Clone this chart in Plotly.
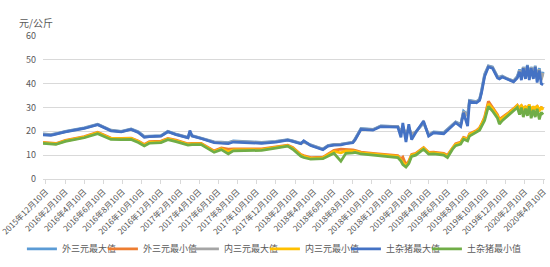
import plotly.graph_objects as go

dates = [
    "2015-12-01", "2015-12-26", "2016-01-11", "2016-02-10", "2016-04-10", "2016-05-23",
    "2016-07-04", "2016-08-06", "2016-09-06", "2016-09-29", "2016-10-18", "2016-11-03",
    "2016-12-10", "2017-01-01", "2017-01-27", "2017-03-06", "2017-03-12", "2017-03-19",
    "2017-04-17", "2017-05-28", "2017-06-20", "2017-07-12", "2017-07-28", "2017-09-08",
    "2017-10-26", "2017-12-10", "2018-01-17", "2018-02-02", "2018-02-28", "2018-03-09",
    "2018-03-31", "2018-05-09", "2018-05-25", "2018-06-13", "2018-07-05", "2018-07-21",
    "2018-08-12", "2018-08-19", "2018-09-07", "2018-10-15", "2018-11-09", "2019-01-02",
    "2019-01-12", "2019-01-18", "2019-01-28", "2019-02-06", "2019-02-15", "2019-02-28",
    "2019-03-25", "2019-04-10", "2019-04-26", "2019-05-28", "2019-06-09", "2019-06-25",
    "2019-07-05", "2019-07-21", "2019-07-30", "2019-08-12", "2019-08-18", "2019-09-09",
    "2019-09-19", "2019-09-25", "2019-10-05", "2019-10-17", "2019-10-30", "2019-11-15",
    "2019-11-21", "2019-11-30", "2019-12-17", "2020-01-05", "2020-01-17", "2020-01-24",
    "2020-01-30", "2020-02-05", "2020-02-12", "2020-02-18", "2020-02-24", "2020-03-01",
    "2020-03-08", "2020-03-14", "2020-03-20", "2020-03-27", "2020-04-02", "2020-04-08",
]

wai_max = [18.9, 18.6, 19.0, 20.0, 21.5, 23.0, 20.5, 20.0, 21.0, 19.8, 17.9, 18.0, 18.2, 20.0, 18.8, 17.5,
           19.5, 18.2, 17.2, 15.6, 15.5, 15.3, 16.0, 15.8, 15.4, 15.8, 16.5, 16.0, 15.0, 15.8, 14.3, 12.6,
           14.0, 14.5, 14.6, 15.0, 15.5, 16.8, 21.2, 20.8, 22.3, 22.0, 19.5, 22.0, 18.0, 21.5, 18.5, 19.8,
           23.5, 18.5, 19.8, 19.5, 21.0, 23.0, 24.0, 23.0, 28.5, 27.0, 33.0, 32.5, 33.5, 37.0, 44.0, 47.5,
           47.0, 43.0, 42.8, 43.2, 42.0, 41.2, 43.0, 46.0, 43.5, 47.0, 44.0, 47.8, 43.0, 47.0, 44.0, 47.5,
           42.5, 46.5, 42.0, 45.0]

wai_min = [15.4, 15.2, 14.9, 16.2, 17.8, 19.6, 17.2, 17.1, 17.2, 16.0, 14.5, 15.7, 15.9, 17.0, 16.3, 14.8,
           14.9, 15.0, 15.0, 11.8, 13.0, 12.5, 12.6, 12.6, 12.6, 13.5, 14.2, 13.2, 10.3, 9.8, 9.0, 9.2,
           10.5, 12.0, 12.5, 12.5, 12.2, 12.0, 11.3, 10.8, 10.5, 9.8, 8.5, 9.2, 6.0, 7.5, 10.3, 10.8,
           13.2, 11.2, 11.3, 10.8, 10.0, 13.3, 14.8, 15.5, 17.5, 17.0, 19.0, 20.3, 21.5, 23.0, 26.0, 32.6,
           30.0, 27.0, 25.0, 26.0, 27.5, 29.5, 31.0, 29.5, 31.0, 29.0, 30.5, 29.0, 31.0, 29.0, 30.0, 29.5,
           30.5, 29.0, 30.0, 29.5]

nei_max = [18.7, 18.5, 18.9, 19.9, 21.3, 22.9, 20.4, 19.9, 20.9, 19.6, 17.7, 17.9, 18.1, 19.9, 18.7, 17.4,
           19.0, 18.1, 17.1, 15.5, 15.3, 15.1, 15.8, 15.6, 15.2, 15.7, 16.4, 15.9, 14.9, 15.5, 14.2, 12.5,
           13.9, 14.4, 14.5, 14.9, 15.4, 16.6, 21.0, 20.7, 22.2, 22.0, 20.0, 21.5, 19.0, 21.0, 19.0, 19.7,
           23.8, 18.6, 19.6, 19.3, 20.8, 22.8, 23.8, 22.6, 28.2, 26.5, 32.8, 32.3, 33.3, 36.5, 43.5, 47.3,
           46.8, 42.8, 42.5, 43.0, 41.9, 41.0, 42.8, 45.5, 43.0, 46.8, 43.5, 47.5, 42.5, 46.8, 43.5, 47.2,
           42.0, 46.0, 41.5, 44.5]

nei_min = [15.2, 15.0, 14.7, 16.0, 17.6, 19.4, 17.0, 16.9, 17.0, 15.7, 14.2, 15.4, 15.6, 16.8, 16.0, 14.5,
           14.6, 14.7, 14.7, 11.5, 12.7, 11.5, 12.2, 12.3, 12.3, 13.3, 14.0, 12.9, 10.0, 9.5, 8.7, 8.9,
           10.0, 11.6, 11.0, 11.8, 11.7, 11.7, 11.0, 10.5, 10.2, 9.5, 8.0, 7.0, 5.5, 7.0, 10.0, 10.5,
           13.0, 11.0, 11.0, 10.5, 9.6, 13.0, 14.5, 15.2, 17.2, 16.7, 18.7, 20.0, 21.2, 22.8, 25.5, 31.5,
           29.5, 26.5, 24.5, 25.5, 27.2, 29.2, 30.8, 29.8, 30.8, 29.5, 30.3, 29.5, 31.2, 28.8, 30.5, 29.0,
           30.8, 28.5, 30.2, 29.0]

tu_max = [18.5, 18.3, 18.8, 19.8, 21.2, 22.8, 20.2, 19.8, 20.8, 19.5, 17.5, 17.8, 18.0, 19.8, 18.6, 17.3,
          20.3, 18.0, 17.0, 15.3, 15.0, 14.8, 15.5, 15.3, 15.0, 15.5, 16.3, 15.8, 14.8, 16.0, 14.0, 12.3,
          13.8, 14.2, 14.3, 14.8, 15.2, 16.4, 20.8, 20.5, 22.0, 21.8, 17.5, 23.5, 15.5, 23.0, 16.5, 19.5,
          24.3, 18.0, 19.4, 19.0, 20.5, 22.5, 23.6, 22.0, 27.8, 22.2, 32.6, 32.0, 33.0, 36.0, 43.0, 47.0,
          46.5, 42.4, 42.0, 42.8, 41.7, 40.8, 42.4, 45.0, 41.5, 46.5, 42.0, 47.5, 41.5, 46.5, 42.0, 47.0,
          40.5, 45.5, 40.0, 39.5]

tu_min = [15.0, 14.8, 14.5, 15.8, 17.3, 19.0, 16.6, 16.5, 16.6, 15.3, 13.9, 15.0, 15.3, 16.5, 15.7, 14.2,
          14.3, 14.4, 14.4, 11.2, 12.3, 10.5, 11.8, 12.0, 12.0, 13.0, 13.8, 12.5, 9.5, 9.0, 8.3, 8.5,
          9.5, 10.8, 7.5, 10.8, 11.0, 11.2, 10.5, 10.0, 9.8, 9.0, 7.5, 6.0, 5.0, 6.5, 9.5, 10.0,
          12.5, 10.4, 10.5, 10.0, 9.0, 12.5, 14.0, 14.6, 16.7, 16.0, 18.0, 19.5, 20.5, 22.0, 24.5, 30.5,
          28.5, 25.5, 23.0, 24.5, 26.4, 28.5, 30.0, 27.0, 30.0, 26.0, 29.5, 26.5, 30.5, 25.5, 29.0, 26.0,
          29.5, 25.0, 28.0, 27.0]

series_names = ["外三元最大值", "外三元最小值", "内三元最大值", "内三元最小值", "土杂猪最大值", "土杂猪最小值"]
series_values = [wai_max, wai_min, nei_max, nei_min, tu_max, tu_min]
colors = ["#5B9BD5", "#ED7D31", "#A5A5A5", "#FFC000", "#4472C4", "#70AD47"]

tick_vals = ["2015-12-10", "2016-02-10", "2016-04-10", "2016-06-10", "2016-08-10", "2016-10-10",
             "2016-12-10", "2017-02-10", "2017-04-10", "2017-06-10", "2017-08-10", "2017-10-10",
             "2017-12-10", "2018-02-10", "2018-04-10", "2018-06-10", "2018-08-10", "2018-10-10",
             "2018-12-10", "2019-02-10", "2019-04-10", "2019-06-10", "2019-08-10", "2019-10-10",
             "2019-12-10", "2020-02-10", "2020-04-10"]
tick_text = ["2015年12月10日", "2016年2月10日", "2016年4月10日", "2016年6月10日", "2016年8月10日",
             "2016年10月10日", "2016年12月10日", "2017年2月10日", "2017年4月10日", "2017年6月10日",
             "2017年8月10日", "2017年10月10日", "2017年12月10日", "2018年2月10日", "2018年4月10日",
             "2018年6月10日", "2018年8月10日", "2018年10月10日", "2018年12月10日", "2019年2月10日",
             "2019年4月10日", "2019年6月10日", "2019年8月10日", "2019年10月10日", "2019年12月10日",
             "2020年2月10日", "2020年4月10日"]

FONT = "Noto Sans CJK SC"
GRAY = "#595959"

fig = go.Figure()
n = len(series_names)
for i, (name, vals, col) in enumerate(zip(series_names, series_values, colors)):
    fig.add_trace(go.Scatter(x=dates, y=vals, mode="lines", name=name,
                             line=dict(color=col, width=2.75),
                             legendwidth=(60 if i == n - 1 else 36)))

fig.update_layout(
    width=550, height=267,
    margin=dict(l=43, r=5, t=36, b=87),
    paper_bgcolor="white", plot_bgcolor="white",
    font=dict(family=FONT, size=9, color=GRAY),
    showlegend=True,
    legend=dict(orientation="h", xref="paper", x=-0.042, xanchor="left",
                yref="paper", y=-0.479, yanchor="middle",
                font=dict(size=9, color=GRAY, family=FONT), entrywidthmode="pixels",
                itemwidth=30, tracegroupgap=0, bgcolor="rgba(0,0,0,0)"),
    annotations=[dict(text="元/公斤", xref="paper", yref="paper", x=-0.014, y=1.097,
                      xanchor="center", yanchor="middle", showarrow=False,
                      font=dict(size=10, color=GRAY, family=FONT))],
)
fig.update_xaxes(type="date", range=["2015-12-01", "2020-04-14"],
                 tickvals=tick_vals, ticktext=tick_text, tickangle=-45,
                 tickfont=dict(size=8.1, color=GRAY), ticklabeloverflow="allow",
                 automargin=False,
                 showgrid=False, showline=True, linecolor="#D9D9D9", linewidth=1,
                 ticks="outside", ticklen=4, tickcolor="#D9D9D9", zeroline=False)
fig.update_yaxes(range=[0, 60], dtick=10, tick0=0, showgrid=True, gridcolor="#D9D9D9",
                 gridwidth=1, zeroline=False, showline=False, ticks="", automargin=False,
                 tickfont=dict(size=9, color=GRAY), ticklabelstandoff=6)

fig.write_html("out.html")
